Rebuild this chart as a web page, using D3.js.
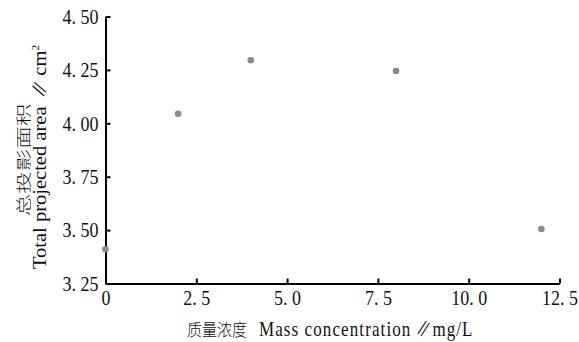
<!DOCTYPE html>
<html>
<head>
<meta charset="utf-8">
<script src="https://cdn.jsdelivr.net/npm/d3@7"></script>
<style>
  body { margin: 0; background: #fff; }
  svg { display: block; }
</style>
</head>
<body>
<div id="chart"></div>
<script>
// Data
const concentration = [0, 2, 4, 8, 12];
const totalArea = [3.41, 4.045, 4.295, 4.245, 3.505];
const xTicks = [0, 2.5, 5.0, 7.5, 10.0, 12.5];
const xTickLabels = ['0', '2. 5', '5. 0', '7. 5', '10. 0', '12. 5'];
const yTicks = [3.25, 3.5, 3.75, 4.0, 4.25, 4.5];
const yTickLabels = ['3. 25', '3. 50', '3. 75', '4. 00', '4. 25', '4. 50'];

const W = 579, H = 342;
const font = '"Liberation Serif", "Noto Sans CJK SC", serif';
const stretch = 1.17; // the scanned figure is a bit taller than wide

const svg = d3.select('#chart')
  .append('svg')
  .attr('width', W)
  .attr('height', H);

const x = d3.scaleLinear().domain([0, 12.5]).range([105.5, 559.5]);
const y = d3.scaleLinear().domain([3.25, 4.5]).range([283.5, 16.5]);

// x axis, ticks pointing inward
const xAxis = svg.append('g')
  .attr('transform', `translate(0, ${y(3.25)})`)
  .call(d3.axisBottom(x)
    .tickValues(xTicks)
    .tickSizeInner(-5)
    .tickSizeOuter(0)
    .tickPadding(5.5)
    .tickFormat((d, i) => xTickLabels[i]));

// y axis
const yAxis = svg.append('g')
  .attr('transform', `translate(${x(0)}, 0)`)
  .call(d3.axisLeft(y)
    .tickValues(yTicks)
    .tickSizeInner(-5)
    .tickSizeOuter(0)
    .tickPadding(7)
    .tickFormat((d, i) => yTickLabels[i]));

[xAxis, yAxis].forEach((g) => {
  g.select('.domain').attr('stroke', '#000').attr('stroke-width', 2);
  g.selectAll('.tick line').attr('stroke', '#000').attr('stroke-width', 2);
  g.selectAll('.tick text')
    .style('font-family', font)
    .style('font-size', '18px')
    .attr('fill', '#111')
    .attr('transform', `scale(1, ${stretch})`);
});
xAxis.selectAll('.tick text').attr('dy', '0.71em');
yAxis.selectAll('.tick text').attr('dy', '0.32em');

// points
svg.append('g')
  .selectAll('circle')
  .data(concentration)
  .enter()
  .append('circle')
  .attr('cx', d => x(d))
  .attr('cy', (d, i) => y(totalArea[i]))
  .attr('r', 3.3)
  .attr('fill', '#8a8a8a');

// x label
const xl = svg.append('text')
  .attr('transform', `translate(187, 336) scale(1, ${stretch})`)
  .attr('text-anchor', 'start')
  .style('font-family', font)
  .style('font-size', '17px')
  .attr('fill', '#111');
xl.append('tspan').style('font-size', '15px').style('font-weight', 300).text('质量浓度');
xl.append('tspan').attr('dx', 12).style('letter-spacing', '1.1px').text('Mass concentration');
xl.append('tspan').attr('dx', 2).style('font-style', 'italic').text('∥');
xl.append('tspan').attr('dx', 2).style('letter-spacing', '1px').text('mg/L');

// y label, two lines
const yl = svg.append('g')
  .attr('transform', 'translate(0, 155) rotate(-90)');
yl.append('text')
  .attr('transform', 'translate(-5, 29) scale(1.5, 1)')
  .attr('text-anchor', 'middle')
  .style('font-family', font)
  .style('font-size', '15px')
  .style('font-weight', 300)
  .attr('fill', '#111')
  .text('总投影面积');
const yl2 = yl.append('text')
  .attr('transform', 'translate(-2, 46) scale(1.14, 1)')
  .attr('text-anchor', 'middle')
  .style('font-family', font)
  .style('font-size', '18px')
  .attr('fill', '#111');
yl2.append('tspan').text('Total projected area ');
yl2.append('tspan').style('font-style', 'italic').text('∥');
yl2.append('tspan').text(' cm');
yl2.append('tspan').attr('dy', -7).style('font-size', '10px').text('2');
</script>
</body>
</html>
